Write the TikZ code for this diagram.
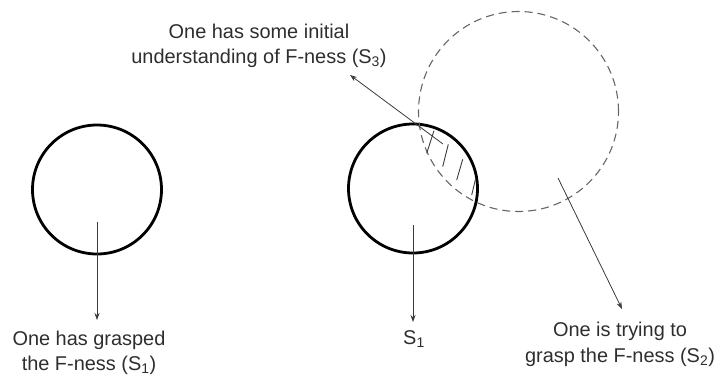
\documentclass[tikz,border=0pt]{standalone}
\usepackage{fontspec}
\setmainfont{Liberation Sans}
\usetikzlibrary{arrows.meta}
\definecolor{txt}{HTML}{2E2E2E}
\definecolor{ln}{HTML}{3A3A3A}
\definecolor{dsh}{HTML}{666666}
\tikzset{
  lbl/.style={font=\fontsize{20}{25.5}\selectfont, text=txt, align=center, inner sep=0pt, anchor=north},
  arr/.style={draw=ln, line width=0.8bp, -{Stealth[length=7bp,width=5bp]}},
  solidring/.style={circle, draw=black, line width=2.8bp, inner sep=0pt, minimum size=129bp},
  dashring/.style={circle, draw=dsh, line width=1.1bp, dash pattern=on 8bp off 5bp, inner sep=0pt, minimum size=200bp},
  hatch/.style={draw=ln, line width=0.9bp}
}
\begin{document}
\begin{tikzpicture}[x=1bp,y=-1bp]
\useasboundingbox (0,0) rectangle (717,376);
% circles
\node[solidring] (c1) at (97,189.5) {};
\node[solidring] (c2) at (413,188.5) {};
\node[dashring] (c3) at (518.5,111.5) {};
% hatching in the overlap
\draw[hatch] (426.7,153.3) -- (434,130.7);
\draw[hatch] (442.7,166.7) -- (448.3,144.3);
\draw[hatch] (456.7,180) -- (462.7,159.3);
\draw[hatch] (471.7,195) -- (475.7,178.3);
% labels
\node[lbl] (t1) at (89,330.5) {One has grasped\\the F-ness (S\textsubscript{1})};
\node[lbl] (t2) at (414,330.5) {S\textsubscript{1}};
\node[lbl] (t3) at (620,322) {One is trying to\\grasp the F-ness (S\textsubscript{2})};
\node[lbl] (t4) at (259,23.5) {One has some initial\\understanding of F-ness (S\textsubscript{3})};
% connector endpoints
\coordinate (a1s) at (97,222);
\coordinate (a1e) at (97,320);
\coordinate (a2s) at (413,225);
\coordinate (a2e) at (413,322);
\coordinate (a3s) at (558,178);
\coordinate (a3e) at (622,309);
\coordinate (a4s) at (443,144);
\coordinate (a4e) at (350,75);
\draw[arr] (a1s) -- (a1e);
\draw[arr] (a2s) -- (a2e);
\draw[arr] (a3s) -- (a3e);
\draw[arr] (a4s) -- (a4e);
\end{tikzpicture}
\end{document}
